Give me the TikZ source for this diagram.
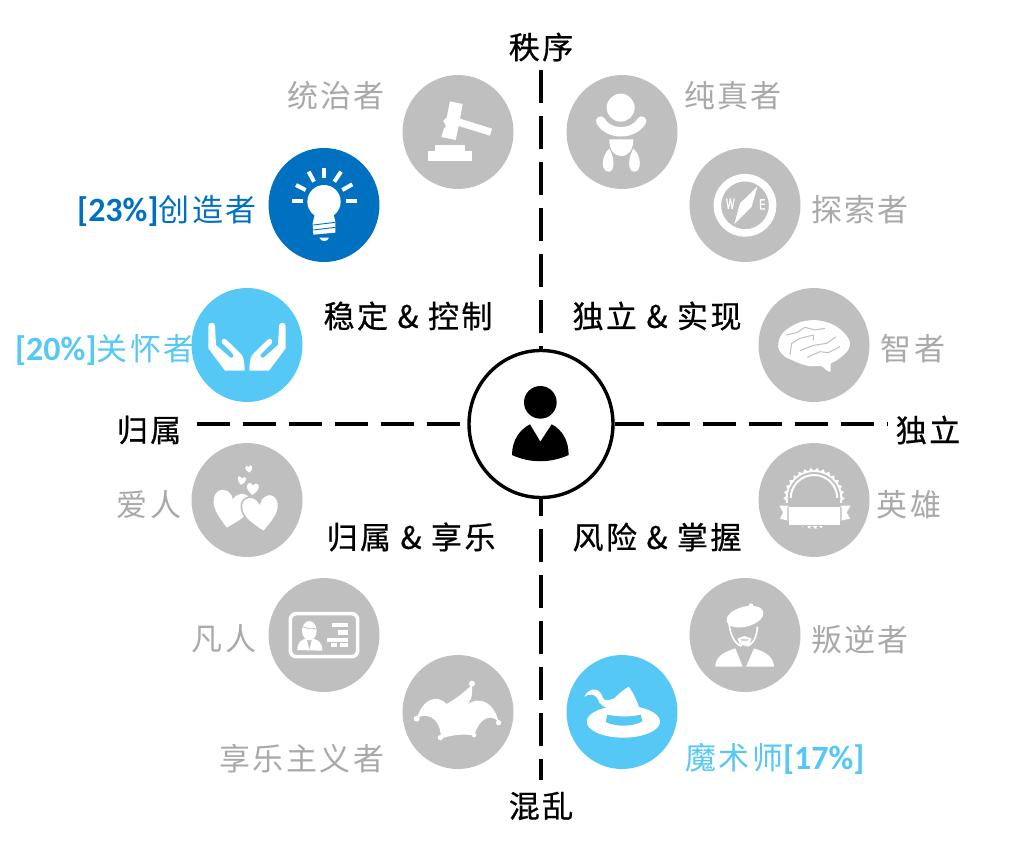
\documentclass[tikz,border=0pt]{standalone}
\usepackage{fontspec}
\usetikzlibrary{shapes.geometric}
\setmainfont{Carlito}
\newfontfamily\cjk[LetterSpace=8]{Noto Sans CJK SC}
\newfontfamily\cjkheavy[LetterSpace=8,FakeBold=0.6]{Noto Sans CJK SC}
\newfontfamily\latinb{Carlito Bold}
\newfontfamily\condfont[FakeStretch=0.6,FakeBold=1.5]{Liberation Sans}
\definecolor{grayc}{HTML}{BFBFBF}
\definecolor{grayt}{HTML}{A9A9A9}
\definecolor{cyanc}{HTML}{56C8F5}
\definecolor{bluec}{HTML}{0070C0}
\tikzset{
  disc/.style={ellipse,draw=none,inner sep=0pt,minimum width=111pt,minimum height=114pt},
  graydisc/.style={disc,fill=grayc},
  cyandisc/.style={disc,fill=cyanc},
  bluedisc/.style={disc,fill=bluec},
  lab/.style={inner sep=0pt,font=\fontsize{31}{33}\selectfont\cjk},
  graylab/.style={lab,text=grayt},
  blacklab/.style={inner sep=0pt,font=\fontsize{31}{33}\selectfont\cjkheavy,text=black},
  cyanlab/.style={lab,text=cyanc},
  bluelab/.style={lab,text=bluec},
  axisline/.style={line width=4pt,black},
  thinblue/.style={draw=bluec,line width=0.9pt},
  crease/.style={draw=grayc,line width=1pt,line join=round,fill=none},
}
\newcommand{\heartshape}[5]{%
  \path[#4,shift={(#1,#2)},rotate=#5,scale=#3] (0,1) .. controls (-0.5,0.55) and (-1,0.15) .. (-1,-0.4)
    .. controls (-1,-1.1) and (-0.2,-1.1) .. (0,-0.55)
    .. controls (0.2,-1.1) and (1,-1.1) .. (1,-0.4)
    .. controls (1,0.15) and (0.5,0.55) .. (0,1) -- cycle;}
\begin{document}
\begin{tikzpicture}[x=1pt,y=-1pt]
\useasboundingbox (0,0) rectangle (1035,856);
\fill[white] (0,0) rectangle (1035,856);

% axes
\node[ellipse,draw=black,line width=3.4pt,fill=white,inner sep=0pt,minimum width=144pt,minimum height=147pt] (hub) at (541,424) {};
\coordinate (topend) at (541,70);
\coordinate (botend) at (541,780);
\coordinate (leftend) at (197,424);
\coordinate (rightend) at (888,424);
\draw[axisline,dash pattern=on 33pt off 13pt] (topend) -- (hub.north);
\draw[axisline,dash pattern=on 33pt off 13pt,dash phase=16pt] (hub.south) -- (botend);
\draw[axisline,dash pattern=on 33pt off 13pt] (leftend) -- (hub.west);
\draw[axisline,dash pattern=on 33pt off 13pt,dash phase=4pt] (hub.east) -- (rightend);

% hub person
\begin{scope}[shift={(450,340)},scale=1/3]
  \fill[black] (271,187) circle (49);
  \fill[black] (186,345) .. controls (186,300) and (210,268) .. (240,253) -- (271,305) -- (305,253)
     .. controls (335,268) and (356,300) .. (356,345) .. controls (300,370) and (240,370) .. (186,345) -- cycle;
\end{scope}

% discs
\node[graydisc] (ruler) at (458,132) {};
\node[graydisc] (innocent) at (622,132) {};
\node[bluedisc] (creator) at (324,205) {};
\node[graydisc] (explorer) at (745,205) {};
\node[cyandisc] (caregiver) at (247,345) {};
\node[graydisc] (sage) at (814,345) {};
\node[graydisc] (lover) at (247,500) {};
\node[graydisc] (hero) at (814,500) {};
\node[graydisc] (everyman) at (324,635) {};
\node[graydisc] (rebel) at (745,635) {};
\node[graydisc] (jester) at (458,712) {};
\node[cyandisc] (magician) at (622,712) {};

% gavel + bulb
\begin{scope}[shift={(260,60)},scale=1/3]
  \fill[white] (570,124) -- (608,132) -- (600,176) -- (696,206) -- (690,227) -- (596,198) -- (587,240) -- (544,231)
     -- (552,205) -- (558,200) -- (550,182) -- (560,172) -- cycle;
  \fill[white] (505,302) rectangle (636,273);
  \fill[white] (525,273) rectangle (616,255);
  % bulb
  \fill[white] (192,425) circle (50);
  \fill[white] (165,460) -- (220,460) -- (226,485) -- (226,518) -- (160,524) -- (158,490) -- cycle;
  \fill[white] (178,533) -- (207,533) .. controls (204,545) and (184,548) .. (178,533) -- cycle;
  \draw[thinblue] (160,495) -- (226,487);
  \draw[thinblue] (160,510) -- (226,502);
  \foreach \a/\b/\c/\d in {192/325/192/355, 146/335/162/365, 108/375/137/390, 97/424/130/424, 259/424/290/424, 247/390/277/373, 223/365/243/335}
    \draw[white,line width=4pt] (\a,\b) -- (\c,\d);
\end{scope}

% baby + compass
\begin{scope}[shift={(550,60)},scale=1/3]
  \draw[white,line width=9.5pt,line cap=round] (152,183) .. controls (175,226) and (250,226) .. (275,183);
  \fill[grayc] (212,143) circle (49);
  \fill[white] (212,143) circle (42);
  \fill[white] (178,238) -- (250,238) .. controls (250,270) and (235,288) .. (213,288) .. controls (192,288) and (178,270) .. (178,238) -- cycle;
  \fill[white] (178,266) .. controls (195,295) and (195,335) .. (176,335) .. controls (150,335) and (155,285) .. (178,266) -- cycle;
  \fill[white] (250,266) .. controls (233,295) and (233,335) .. (252,335) .. controls (278,335) and (273,285) .. (250,266) -- cycle;
  % compass
  \draw[white,line width=7.5pt] (585,436) circle (83);
  \fill[white] (622,380) -- (605,440) -- (553,492) -- (570,430) -- cycle;
  \node[text=white,inner sep=0pt,font=\fontsize{15}{15}\selectfont\condfont] (compw) at (541,431) {W};
  \node[text=white,inner sep=0pt,font=\fontsize{15}{15}\selectfont\condfont] (compe) at (637,433) {E};
\end{scope}

% hands + hearts
\begin{scope}[shift={(180,280)},scale=1/3]
  \foreach \m/\o in {1/0,-1/402}{
  \begin{scope}[shift={(\o,0)},xscale=\m]
    \fill[white] (85,138) .. controls (85,125) and (105,125) .. (105,138) -- (108,195) -- (150,232)
       .. controls (160,238) and (165,225) .. (155,218) -- (127,190) .. controls (122,178) and (132,172) .. (140,180)
       -- (183,222) .. controls (190,230) and (193,240) .. (194,272) -- (135,272) -- (85,205) -- cycle;
  \end{scope}}
  \heartshape{152}{688}{56}{fill=white}{-12}
  \heartshape{243}{700}{56}{fill=white,draw=grayc,line width=1.6pt}{8}
  \heartshape{218}{627}{18}{fill=white}{-5}
  \heartshape{185}{602}{13}{fill=white}{-10}
  \heartshape{207}{567}{11}{fill=white}{10}
\end{scope}

% brain + badge
\begin{scope}[shift={(750,280)},scale=1/3]
  \fill[white] plot[smooth cycle,tension=0.7] coordinates {(85,190) (108,150) (170,122) (240,130) (290,168) (297,205) (262,240) (243,250) (241,275) (226,268) (212,258) (175,258) (130,242) (96,222)};
  \draw[crease] (108,165) -- (140,158) -- (165,142) -- (195,150) -- (225,145);
  \draw[crease] (120,225) -- (125,190) -- (150,175) -- (190,165) -- (190,180);
  \draw[crease] (150,212) -- (190,196) -- (230,190) -- (258,170);
  \draw[crease] (172,232) -- (210,215) -- (235,218) -- (270,200);
  % badge
  \foreach \i in {0,12,...,348}{
    \fill[white] ({192+92*cos(\i)},{655+92*sin(\i)}) -- ({192+82*cos(\i-6)},{655+82*sin(\i-6)}) -- ({192+82*cos(\i+6)},{655+82*sin(\i+6)}) -- cycle;
  }
  \fill[white] (192,655) circle (84);
  \fill[grayc] (192,655) circle (79);
  \draw[white,line width=2pt] (192,655) circle (70);
  \fill[grayc] (95,670) rectangle (290,745);
  \foreach \i in {40,52,...,140}{
    \fill[white] ({192+92*cos(\i)},{655+92*sin(\i)}) -- ({192+82*cos(\i-6)},{655+82*sin(\i-6)}) -- ({192+82*cos(\i+6)},{655+82*sin(\i+6)}) -- cycle;
  }
  \fill[grayc] (118,655) rectangle (268,738);
  \fill[white] (88,677) -- (115,677) -- (115,722) -- (90,716) -- (99,697) -- cycle;
  \fill[white] (302,677) -- (272,677) -- (272,722) -- (300,716) -- (290,697) -- cycle;
  \fill[grayc] (112,680) -- (112,722) -- (115,722) -- (115,682) -- cycle;
  \fill[grayc] (275,680) -- (275,722) -- (272,722) -- (272,682) -- cycle;
  \fill[white] (117,682) rectangle (270,735);
\end{scope}

% id card + jester
\begin{scope}[shift={(260,570)},scale=1/3]
  \draw[white,line width=3.6pt,rounded corners=6pt] (91,131) rectangle (293,260);
  \fill[white] (148,182) ellipse (22 and 29);
  \draw[grayc,line width=0.8pt] (128,170) .. controls (145,180) and (160,170) .. (168,178);
  \fill[white] (112,240) .. controls (112,215) and (125,208) .. (140,206) -- (148,240) -- (156,206)
     .. controls (172,208) and (187,215) .. (187,242) -- cycle;
  \fill[white] (215,158) rectangle (265,172);
  \fill[white] (235,180) rectangle (265,195);
  \fill[white] (200,203) rectangle (265,216);
  \fill[white] (213,220) rectangle (232,230);
  \fill[white] (240,220) rectangle (265,230);
  % jester
  \fill[white] (470,445) .. controls (490,385) and (530,372) .. (560,402)
     .. controls (590,385) and (615,365) .. (635,345) .. controls (640,375) and (632,395) .. (620,405)
     .. controls (665,372) and (705,405) .. (716,457) .. controls (695,430) and (660,440) .. (642,497)
     .. controls (610,490) and (575,495) .. (541,506) .. controls (548,460) and (510,420) .. (470,445) -- cycle;
  \fill[white] (636,341) circle (9);
  \fill[white] (470,446) circle (9);
  \fill[white] (716,458) circle (8);
  \fill[white] (541,503) circle (8);
  \fill[white] (642,495) circle (7);
\end{scope}

% beret + hat
\begin{scope}[shift={(550,570)},scale=1/3]
  \fill[white,rotate around={15:(585,140)}] (585,140) ellipse (57 and 30);
  \fill[white] (603,107) circle (7);
  \draw[white,line width=1.6pt] (537,155) .. controls (538,190) and (555,225) .. (575,228);
  \draw[white,line width=1.6pt] (622,170) .. controls (622,195) and (610,225) .. (590,228);
  \fill[white] (563,205) -- (583,198) -- (604,205) -- (600,222) -- (585,228) -- (568,222) -- cycle;
  \fill[grayc] (572,208) -- (595,208) -- (592,212) -- (575,212) -- cycle;
  \fill[white] (496,290) .. controls (497,265) and (510,250) .. (556,235) -- (578,290) -- cycle;
  \fill[white] (588,290) -- (612,235) .. controls (655,248) and (670,265) .. (672,290) -- cycle;
  % wizard
  \fill[white] (220,455) ellipse (110 and 48);
  \fill[white] (145,440) .. controls (165,420) and (175,405) .. (185,395) .. controls (200,375) and (220,360) .. (236,350)
     .. controls (255,375) and (268,410) .. (278,445) -- cycle;
  \fill[white] (103,380) .. controls (118,350) and (150,352) .. (158,382) .. controls (162,395) and (175,392) .. (192,385) -- (190,412) .. controls (165,418) and (148,405) .. (142,385) .. controls (135,370) and (115,372) .. (103,380) -- cycle;
  \fill[cyanc] (172,434) .. controls (205,441) and (245,441) .. (272,434) -- (277,454) .. controls (245,472) and (195,470) .. (167,456) -- cycle;
\end{scope}

% labels
\node[graylab] (lruler) at (336,96) {统治者};
\node[graylab] (linnocent) at (733,96) {纯真者};
\node[bluelab,anchor=west] (lcreator) at (77,211) {{\latinb\fontsize{34}{34}\selectfont [23\%]}创造者};
\node[graylab] (lexplorer) at (860,210) {探索者};
\node[cyanlab,anchor=west] (lcaregiver) at (15,350) {{\latinb\fontsize{34}{34}\selectfont [20\%]}关怀者};
\node[graylab] (lsage) at (913,349) {智者};
\node[graylab] (llover) at (149,505) {爱人};
\node[graylab] (lhero) at (909,505) {英雄};
\node[graylab] (leveryman) at (224,639) {凡人};
\node[graylab] (lrebel) at (860,640) {叛逆者};
\node[graylab] (ljester) at (302,759) {享乐主义者};
\node[cyanlab,anchor=west] (lmagician) at (685,759) {魔术师{\latinb\fontsize{34}{34}\selectfont [17\%]}};
\node[blacklab] (q1) at (408,316) {稳定 \& 控制};
\node[blacklab] (q2) at (657,316) {独立 \& 实现};
\node[blacklab] (q3) at (411,537) {归属 \& 享乐};
\node[blacklab] (q4) at (657,537) {风险 \& 掌握};
\node[blacklab] (order) at (541,47) {秩序};
\node[blacklab] (chaos) at (541,806) {混乱};
\node[blacklab] (belong) at (149,430) {归属};
\node[blacklab] (indep) at (928,430) {独立};
\end{tikzpicture}
\end{document}
